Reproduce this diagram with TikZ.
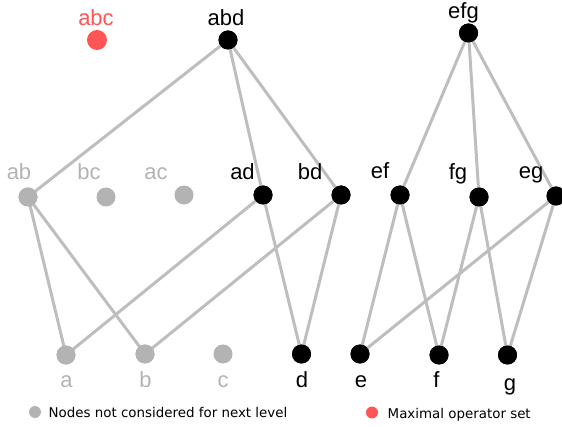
\documentclass[tikz,border=0pt]{standalone}
\usepackage{fontspec}
\setmainfont{Liberation Sans}
\newfontfamily\legendfont{DejaVu Sans}
\definecolor{edgegray}{RGB}{190,190,190}
\definecolor{offgray}{RGB}{179,179,179}
\definecolor{maxred}{RGB}{255,85,85}
\begin{document}
\begin{tikzpicture}[x=1pt,y=-1pt,
  dot/.style={circle,inner sep=0pt,minimum size=19pt},
  livenode/.style={dot,fill=black},
  offnode/.style={dot,fill=offgray},
  maxnode/.style={dot,fill=maxred,minimum size=20pt},
  edge/.style={draw=edgegray,line width=3pt},
  lbl/.style={anchor=base,inner sep=0pt,font=\fontsize{22}{24}\selectfont},
  legdot/.style={circle,inner sep=0pt,minimum size=12pt},
  legtext/.style={anchor=base west,inner sep=0pt,font=\legendfont\fontsize{13.4}{15}\selectfont}]
\useasboundingbox (0,0) rectangle (562,427);

% level 3
\node[maxnode]  (abc) at (97,40) {};
\node[livenode] (abd) at (228,40) {};
\node[livenode] (efg) at (468.5,33) {};
% level 2
\node[offnode]  (ab) at (28,197) {};
\node[offnode]  (bc) at (106,197) {};
\node[offnode]  (ac) at (184,195) {};
\node[livenode] (ad) at (263,195) {};
\node[livenode] (bd) at (341,195) {};
\node[livenode] (ef) at (400,195) {};
\node[livenode] (fg) at (479,197) {};
\node[livenode] (eg) at (556,196) {};
% level 1
\node[offnode]  (a) at (66,355) {};
\node[offnode]  (b) at (145,354) {};
\node[offnode]  (c) at (223,354) {};
\node[livenode] (d) at (301.5,354) {};
\node[livenode] (e) at (360,354) {};
\node[livenode] (f) at (439,355) {};
\node[livenode] (g) at (507.5,355) {};

% lattice edges
\path[edge] (abd.center) -- (ab.center);
\path[edge] (abd.center) -- (ad.center);
\path[edge] (abd.center) -- (bd.center);
\path[edge] (ab.center) -- (a.center);
\path[edge] (ab.center) -- (b.center);
\path[edge] (ad.center) -- (a.center);
\path[edge] (ad.center) -- (d.center);
\path[edge] (bd.center) -- (b.center);
\path[edge] (bd.center) -- (d.center);
\path[edge] (efg.center) -- (ef.center);
\path[edge] (efg.center) -- (fg.center);
\path[edge] (efg.center) -- (eg.center);
\path[edge] (ef.center) -- (e.center);
\path[edge] (ef.center) -- (f.center);
\path[edge] (fg.center) -- (f.center);
\path[edge] (fg.center) -- (g.center);
\path[edge] (eg.center) -- (e.center);
\path[edge] (eg.center) -- (g.center);

% redraw dots over the edges
\foreach \n/\s in {abd/livenode,efg/livenode,ab/offnode,ad/livenode,bd/livenode,
                   ef/livenode,fg/livenode,eg/livenode,a/offnode,b/offnode,
                   d/livenode,e/livenode,f/livenode,g/livenode}
  \node[\s] at (\n.center) {};

% labels
\node[lbl,text=maxred]  (abc-t) at (96,25.5) {abc};
\node[lbl]              (abd-t) at (226,25.5) {abd};
\node[lbl]              (efg-t) at (463.5,19) {efg};
\node[lbl,text=offgray] (ab-t) at (19,180) {ab};
\node[lbl,text=offgray] (bc-t) at (89,180) {bc};
\node[lbl,text=offgray] (ac-t) at (156,180) {ac};
\node[lbl]              (ad-t) at (242.5,180) {ad};
\node[lbl]              (bd-t) at (310,180) {bd};
\node[lbl]              (ef-t) at (380,178.5) {ef};
\node[lbl]              (fg-t) at (458,180) {fg};
\node[lbl]              (eg-t) at (531,178.5) {eg};
\node[lbl,text=offgray] (a-t) at (66.5,388) {a};
\node[lbl,text=offgray] (b-t) at (145.5,388) {b};
\node[lbl,text=offgray] (c-t) at (223,388) {c};
\node[lbl]              (d-t) at (302,388) {d};
\node[lbl]              (e-t) at (361,388) {e};
\node[lbl]              (f-t) at (436.5,388) {f};
\node[lbl]              (g-t) at (510,390) {g};

% legend
\node[legdot,fill=offgray] (leg1) at (35,412) {};
\node[legtext] (leg1-t) at (48.5,417.5) {Nodes not considered for next level};
\node[legdot,fill=maxred] (leg2) at (372,412.5) {};
\node[legtext] (leg2-t) at (387.5,418) {Maximal operator set};
\end{tikzpicture}
\end{document}
